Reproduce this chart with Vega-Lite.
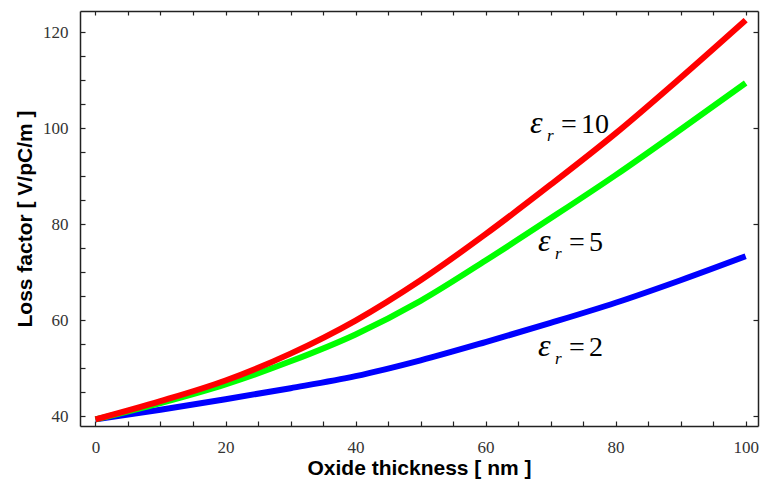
{
  "$schema": "https://vega.github.io/schema/vega-lite/v6.json",
  "width": 678,
  "height": 415,
  "autosize": {"type": "none"},
  "padding": {"left": 80, "top": 11, "right": 2, "bottom": 61},
  "background": "white",
  "config": {
    "view": {"stroke": null},
    "axis": {
      "grid": false,
      "domainColor": "#222",
      "domainWidth": 1.5,
      "tickColor": "#222",
      "tickWidth": 1.2,
      "labelFont": "Liberation Sans Narrow",
      "labelFontSize": 17,
      "labelColor": "#333",
      "titleFont": "Liberation Sans",
      "titleFontWeight": "bold",
      "titleFontSize": 21,
      "titleColor": "#000"
    }
  },
  "datasets": {
    "curves": [
      {"series": "2", "x": 0, "y": 39.3},
      {"series": "2", "x": 10, "y": 41.3},
      {"series": "2", "x": 20, "y": 43.5},
      {"series": "2", "x": 30, "y": 45.8},
      {"series": "2", "x": 40, "y": 48.3},
      {"series": "2", "x": 50, "y": 51.6},
      {"series": "2", "x": 60, "y": 55.4},
      {"series": "2", "x": 70, "y": 59.4},
      {"series": "2", "x": 80, "y": 63.6},
      {"series": "2", "x": 90, "y": 68.3},
      {"series": "2", "x": 100, "y": 73.3},
      {"series": "5", "x": 0, "y": 39.3},
      {"series": "5", "x": 10, "y": 42.7},
      {"series": "5", "x": 20, "y": 46.6},
      {"series": "5", "x": 30, "y": 51.4},
      {"series": "5", "x": 40, "y": 57.0},
      {"series": "5", "x": 50, "y": 64.0},
      {"series": "5", "x": 60, "y": 72.4},
      {"series": "5", "x": 70, "y": 81.2},
      {"series": "5", "x": 80, "y": 90.2},
      {"series": "5", "x": 90, "y": 99.7},
      {"series": "5", "x": 100, "y": 109.4},
      {"series": "10", "x": 0, "y": 39.3},
      {"series": "10", "x": 10, "y": 43.1},
      {"series": "10", "x": 20, "y": 47.4},
      {"series": "10", "x": 30, "y": 53.0},
      {"series": "10", "x": 40, "y": 59.9},
      {"series": "10", "x": 50, "y": 68.3},
      {"series": "10", "x": 60, "y": 77.9},
      {"series": "10", "x": 70, "y": 88.2},
      {"series": "10", "x": 80, "y": 98.9},
      {"series": "10", "x": 90, "y": 110.5},
      {"series": "10", "x": 100, "y": 122.5}
    ],
    "labels": [
      {"name": "10", "x": 66.85, "y": 98.96},
      {"name": "5", "x": 68.08, "y": 74.38},
      {"name": "2", "x": 68.08, "y": 52.5}
    ]
  },
  "layer": [
    {
      "data": {"name": "curves"},
      "mark": {"type": "line", "strokeWidth": 6, "interpolate": "monotone", "strokeCap": "butt"},
      "encoding": {
        "x": {
          "field": "x", "type": "quantitative",
          "scale": {"domain": [-2.38, 101.9], "nice": false, "zero": false},
          "axis": {
            "orient": "bottom",
            "values": [0,5,10,15,20,25,30,35,40,45,50,55,60,65,70,75,80,85,90,95,100],
            "labelExpr": "datum.value % 20 === 0 ? datum.label : ''",
            "tickSize": -5,
            "labelPadding": 18,
            "title": "Oxide thickness [ nm ]",
            "titlePadding": 2
          }
        },
        "y": {
          "field": "y", "type": "quantitative",
          "scale": {"domain": [37.92, 124.4], "nice": false, "zero": false},
          "axis": {
            "orient": "left",
            "values": [40,45,50,55,60,65,70,75,80,85,90,95,100,105,110,115,120],
            "labelExpr": "datum.value % 20 === 0 ? datum.label : ''",
            "tickSize": -5,
            "labelPadding": 17,
            "title": "Loss factor [ V/pC/m ]",
            "titlePadding": 7
          }
        },
        "color": {
          "field": "series", "type": "nominal",
          "scale": {"domain": ["2", "5", "10"], "range": ["#0000ff", "#00ff00", "#ff0000"]},
          "legend": null
        }
      }
    },
    {
      "data": {"name": "curves"},
      "mark": {"type": "point", "opacity": 0},
      "encoding": {
        "x": {
          "field": "x", "type": "quantitative",
          "axis": {
            "orient": "top",
            "values": [0,5,10,15,20,25,30,35,40,45,50,55,60,65,70,75,80,85,90,95,100],
            "labels": false,
            "tickSize": -4,
            "title": null
          }
        },
        "y": {
          "field": "y", "type": "quantitative",
          "axis": {
            "orient": "right",
            "values": [40,60,80,100,120],
            "labels": false,
            "tickSize": -5,
            "title": null
          }
        }
      }
    },
    {
      "data": {"name": "labels"},
      "mark": {"type": "text", "text": "ε", "font": "Liberation Serif", "fontStyle": "italic", "fontSize": 32, "align": "left", "baseline": "alphabetic", "color": "#000"},
      "encoding": {
        "x": {"field": "x", "type": "quantitative", "axis": null},
        "y": {"field": "y", "type": "quantitative", "axis": null}
      }
    },
    {
      "data": {"name": "labels"},
      "mark": {"type": "text", "text": "r", "font": "Liberation Serif", "fontStyle": "italic", "fontSize": 17, "align": "left", "baseline": "alphabetic", "dx": 17, "dy": 8, "color": "#000"},
      "encoding": {
        "x": {"field": "x", "type": "quantitative", "axis": null},
        "y": {"field": "y", "type": "quantitative", "axis": null}
      }
    },
    {
      "data": {"name": "labels"},
      "mark": {"type": "text", "text": "=", "font": "Liberation Serif", "fontSize": 28, "align": "left", "baseline": "alphabetic", "dx": 31, "color": "#000"},
      "encoding": {
        "x": {"field": "x", "type": "quantitative", "axis": null},
        "y": {"field": "y", "type": "quantitative", "axis": null}
      }
    },
    {
      "data": {"name": "labels"},
      "mark": {"type": "text", "font": "Liberation Serif", "fontSize": 28, "align": "left", "baseline": "alphabetic", "dx": 51, "color": "#000"},
      "encoding": {
        "x": {"field": "x", "type": "quantitative", "axis": null},
        "y": {"field": "y", "type": "quantitative", "axis": null},
        "text": {"field": "name"}
      }
    }
  ],
  "resolve": {"axis": {"x": "independent", "y": "independent"}}
}
